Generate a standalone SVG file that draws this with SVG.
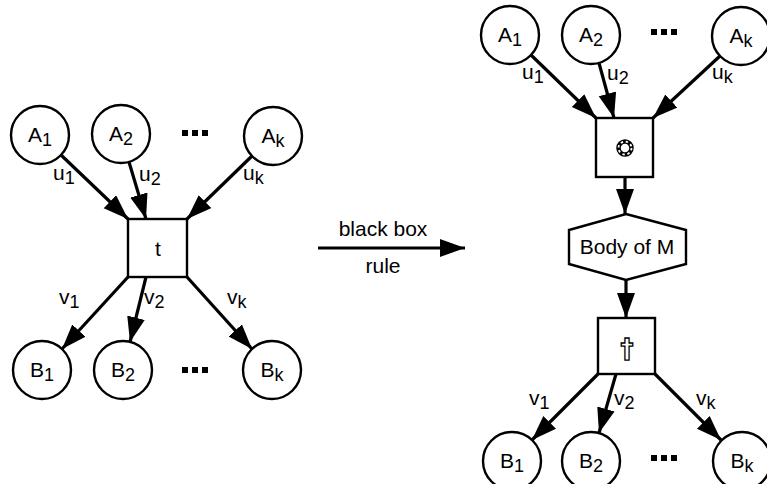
<svg xmlns="http://www.w3.org/2000/svg" width="767" height="484" viewBox="0 0 767 484">
<style>
.n{fill:#fff;stroke:#000;stroke-width:2.4}
.e{fill:none;stroke:#000;stroke-width:3.2}
text{font-family:"Liberation Sans",Arial,sans-serif;font-size:21px;fill:#000}
.c{text-anchor:middle}
.s{font-size:18px}
.dots{fill:#000}
</style>
<defs>
<marker id="ah" markerUnits="userSpaceOnUse" markerWidth="28" markerHeight="22" refX="25" refY="9" orient="auto">
<path d="M0,0 L25,9 L0,18 z" fill="#000"/>
</marker>
</defs>
<rect width="767" height="484" fill="#fff"/>

<g id="connectors">
<line class="e" x1="61" y1="155" x2="128" y2="219" marker-end="url(#ah)"/>
<line class="e" x1="129" y1="162" x2="146" y2="219" marker-end="url(#ah)"/>
<line class="e" x1="252" y1="156" x2="187" y2="219" marker-end="url(#ah)"/>
<line class="e" x1="128" y1="277" x2="62" y2="349" marker-end="url(#ah)"/>
<line class="e" x1="146" y1="277" x2="130" y2="342" marker-end="url(#ah)"/>
<line class="e" x1="187" y1="277" x2="252" y2="349" marker-end="url(#ah)"/>
<line class="e" x1="318" y1="248" x2="465" y2="248" marker-end="url(#ah)"/>
<line class="e" x1="531" y1="55" x2="596" y2="118" marker-end="url(#ah)"/>
<line class="e" x1="599" y1="63" x2="614" y2="118" marker-end="url(#ah)"/>
<line class="e" x1="720" y1="56" x2="653" y2="118" marker-end="url(#ah)"/>
<line class="e" x1="625" y1="177" x2="625" y2="214" marker-end="url(#ah)"/>
<line class="e" x1="626" y1="280" x2="626" y2="318" marker-end="url(#ah)"/>
<line class="e" x1="598" y1="374" x2="532" y2="440" marker-end="url(#ah)"/>
<line class="e" x1="616" y1="374" x2="599" y2="433" marker-end="url(#ah)"/>
<line class="e" x1="655" y1="374" x2="721" y2="440" marker-end="url(#ah)"/>
</g>

<g id="edge-labels">
<text x="53" y="180">u<tspan class="s" dy="4">1</tspan></text>
<text x="139" y="181">u<tspan class="s" dy="4">2</tspan></text>
<text x="243" y="180">u<tspan class="s" dy="4">k</tspan></text>
<text x="59" y="304">v<tspan class="s" dy="4">1</tspan></text>
<text x="144" y="304">v<tspan class="s" dy="4">2</tspan></text>
<text x="227" y="304">v<tspan class="s" dy="4">k</tspan></text>
<text class="c" x="383" y="236">black box</text>
<text class="c" x="383" y="273">rule</text>
<text x="522" y="79">u<tspan class="s" dy="4">1</tspan></text>
<text x="607" y="80">u<tspan class="s" dy="4">2</tspan></text>
<text x="712" y="79">u<tspan class="s" dy="4">k</tspan></text>
<text x="529" y="405">v<tspan class="s" dy="4">1</tspan></text>
<text x="614" y="405">v<tspan class="s" dy="4">2</tspan></text>
<text x="696" y="405">v<tspan class="s" dy="4">k</tspan></text>
</g>

<g id="L_A1"><circle class="n" cx="40" cy="135" r="29"/><text class="c" x="40" y="142">A<tspan class="s" dy="4">1</tspan></text></g>
<g id="L_A2"><circle class="n" cx="121" cy="134" r="29"/><text class="c" x="121" y="141">A<tspan class="s" dy="4">2</tspan></text></g>
<g id="L_Adots"><rect class="dots" x="182" y="130" width="6" height="6"/><rect class="dots" x="192" y="130" width="6" height="6"/><rect class="dots" x="202" y="130" width="6" height="6"/></g>
<g id="L_Ak"><circle class="n" cx="273" cy="136" r="29"/><text class="c" x="273" y="143">A<tspan class="s" dy="4">k</tspan></text></g>
<g id="L_t"><rect class="n" x="128" y="219" width="59" height="58"/><text class="c" x="158" y="256">t</text></g>
<g id="L_B1"><circle class="n" cx="42" cy="370" r="29"/><text class="c" x="42" y="377">B<tspan class="s" dy="4">1</tspan></text></g>
<g id="L_B2"><circle class="n" cx="123" cy="370" r="29"/><text class="c" x="123" y="377">B<tspan class="s" dy="4">2</tspan></text></g>
<g id="L_Bdots"><rect class="dots" x="182" y="367" width="6" height="6"/><rect class="dots" x="192" y="367" width="6" height="6"/><rect class="dots" x="202" y="367" width="6" height="6"/></g>
<g id="L_Bk"><circle class="n" cx="272" cy="370" r="29"/><text class="c" x="272" y="377">B<tspan class="s" dy="4">k</tspan></text></g>

<g id="R_A1"><circle class="n" cx="510" cy="35" r="29"/><text class="c" x="510" y="42">A<tspan class="s" dy="4">1</tspan></text></g>
<g id="R_A2"><circle class="n" cx="591" cy="35" r="29"/><text class="c" x="591" y="42">A<tspan class="s" dy="4">2</tspan></text></g>
<g id="R_Adots"><rect class="dots" x="651" y="29" width="6" height="6"/><rect class="dots" x="661" y="29" width="6" height="6"/><rect class="dots" x="671" y="29" width="6" height="6"/></g>
<g id="R_Ak"><circle class="n" cx="741" cy="36" r="29"/><text class="c" x="741" y="43">A<tspan class="s" dy="4">k</tspan></text></g>
<g id="R_ring"><rect class="n" x="596" y="118" width="57" height="59"/>
<circle cx="625" cy="148" r="6.5" fill="none" stroke="#000" stroke-width="4.5"/>
<circle cx="625" cy="148" r="6.5" fill="none" stroke="#fff" stroke-width="1.8" stroke-dasharray="2.4 2.7"/></g>
<g id="R_body"><polygon class="n" points="626,214 686,230 686,264 626,280 569,264 569,230"/><text class="c" x="627" y="254">Body of M</text></g>
<g id="R_dagger"><rect class="n" x="598" y="318" width="57" height="56"/><text class="c" x="627" y="358" style="font-family:'DejaVu Sans',sans-serif;font-size:26px;font-weight:bold;fill:#fff;stroke:#000;stroke-width:1.3">†</text></g>
<g id="R_B1"><circle class="n" cx="512" cy="461" r="29"/><text class="c" x="512" y="468">B<tspan class="s" dy="4">1</tspan></text></g>
<g id="R_B2"><circle class="n" cx="591" cy="461" r="29"/><text class="c" x="591" y="468">B<tspan class="s" dy="4">2</tspan></text></g>
<g id="R_Bdots"><rect class="dots" x="651" y="455" width="6" height="6"/><rect class="dots" x="661" y="455" width="6" height="6"/><rect class="dots" x="671" y="455" width="6" height="6"/></g>
<g id="R_Bk"><circle class="n" cx="742" cy="461" r="29"/><text class="c" x="742" y="468">B<tspan class="s" dy="4">k</tspan></text></g>
</svg>
